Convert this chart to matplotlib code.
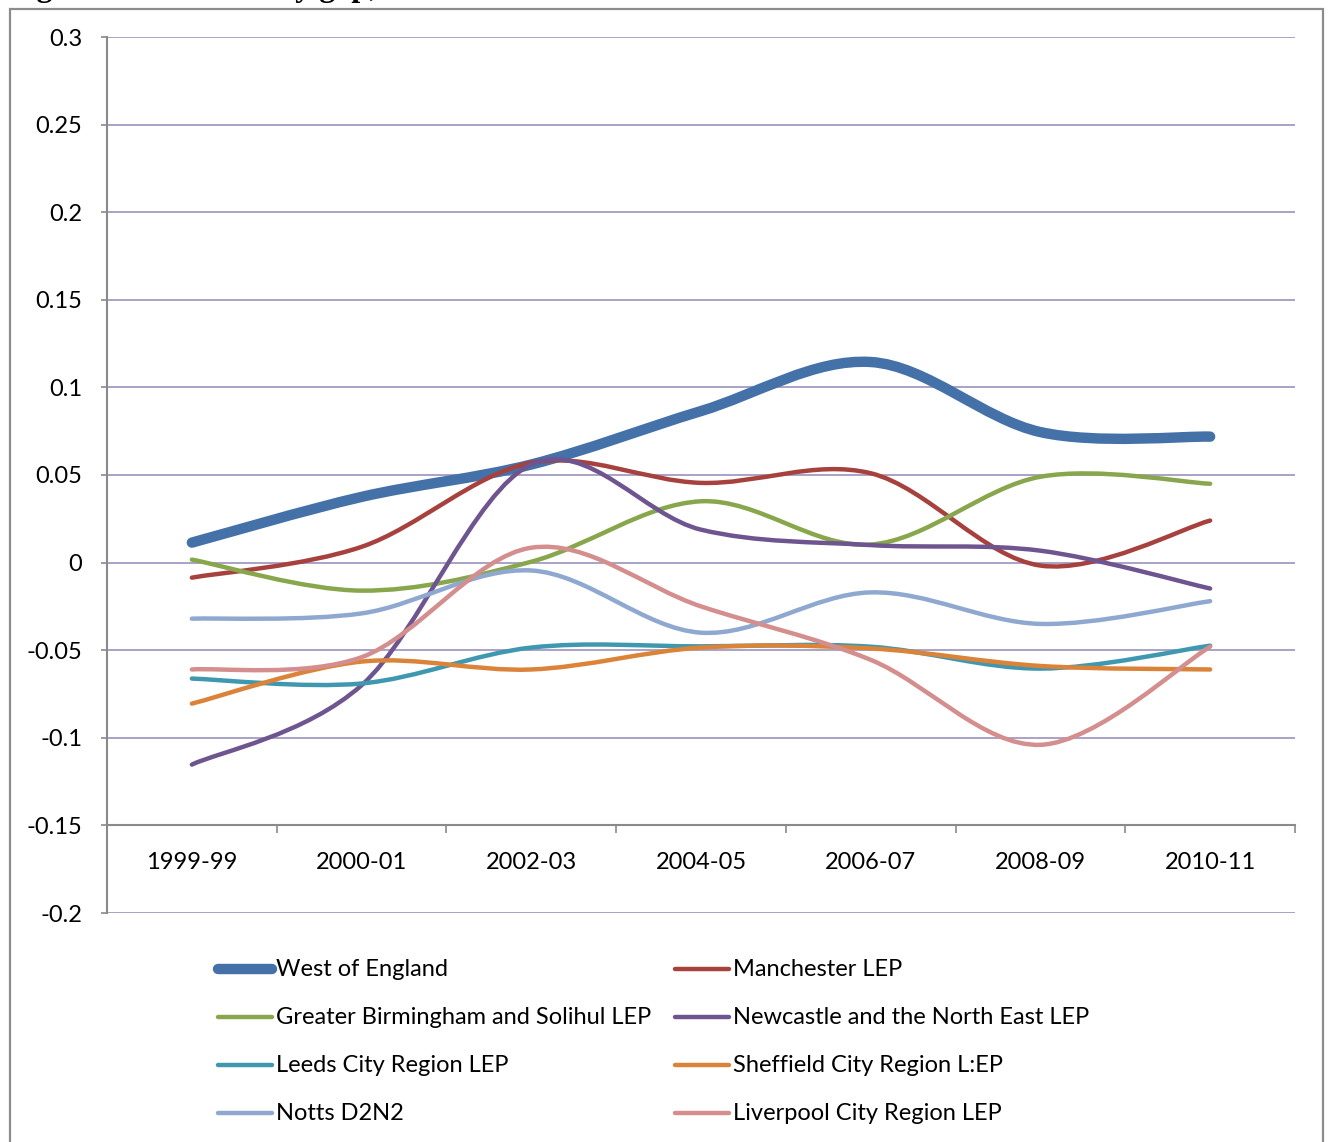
import numpy as np
import matplotlib
matplotlib.use("Agg")
import matplotlib.pyplot as plt
from matplotlib.path import Path
from matplotlib.patches import PathPatch, Rectangle
from matplotlib.lines import Line2D

plt.rcParams['font.family'] = ['Lato', 'DejaVu Sans']

# -----------------------------------------------------------------------------
# Data: productivity gap by LEP area
# -----------------------------------------------------------------------------
years = ['1999-99', '2000-01', '2002-03', '2004-05', '2006-07', '2008-09', '2010-11']

west_of_england = [0.0114, 0.0375, 0.0560, 0.0865, 0.1145, 0.0745, 0.0719]
manchester = [-0.0086, 0.0090, 0.0570, 0.0455, 0.0510, -0.0017, 0.0240]
birmingham = [0.0017, -0.0160, 0.0005, 0.0350, 0.0103, 0.0490, 0.0450]
newcastle = [-0.1153, -0.0700, 0.0560, 0.0188, 0.0100, 0.0068, -0.0148]
leeds = [-0.0662, -0.0690, -0.0485, -0.0478, -0.0480, -0.0605, -0.0474]
sheffield = [-0.0805, -0.0565, -0.0610, -0.0485, -0.0490, -0.0590, -0.0610]
notts = [-0.0320, -0.0290, -0.0045, -0.0400, -0.0170, -0.0350, -0.0220]
liverpool = [-0.0610, -0.0540, 0.0085, -0.0250, -0.0555, -0.1040, -0.0480]

names = ['West of England', 'Manchester LEP',
         'Greater Birmingham and Solihul LEP', 'Newcastle and the North East LEP',
         'Leeds City Region LEP', 'Sheffield City Region L:EP',
         'Notts D2N2', 'Liverpool City Region LEP']
series = [west_of_england, manchester, birmingham, newcastle,
          leeds, sheffield, notts, liverpool]
colors = ['#4471A8', '#A6413E', '#88A64C', '#6F5590',
          '#3F98B0', '#DC833A', '#8FA8CF', '#D38E8D']
widths = [7.5, 3.2, 3.2, 3.2, 3.2, 3.2, 3.2, 3.2]

y_ticks = [0.3, 0.25, 0.2, 0.15, 0.1, 0.05, 0, -0.05, -0.1, -0.15, -0.2]

GRID = '#A9A2C6'
AXIS = '#8A8A8A'
FS = 17


def smooth_path(xs, ys, t=1/6):
    # bezier segments like a spreadsheet "smoothed line"
    pts = np.column_stack([xs, ys]).astype(float)
    n = len(pts)
    verts = [pts[0]]
    codes = [Path.MOVETO]
    for i in range(n - 1):
        p0 = pts[max(i - 1, 0)]
        p1 = pts[i]
        p2 = pts[i + 1]
        p3 = pts[min(i + 2, n - 1)]
        c1 = p1 + (p2 - p0) * t
        c2 = p2 - (p3 - p1) * t
        verts += [c1, c2, p2]
        codes += [Path.CURVE4] * 3
    return Path(verts, codes)


W, H = 1330, 1142
fig = plt.figure(figsize=(W / 100, H / 100), dpi=100)
ax = fig.add_axes([107 / W, 1 - 913 / H, (1295 - 107) / W, (913 - 37) / H])

x = np.arange(len(years))
for vals, c, lw in zip(series, colors, widths):
    patch = PathPatch(smooth_path(x, vals), facecolor='none', edgecolor=c,
                      lw=lw, capstyle='round', joinstyle='round', zorder=3)
    ax.add_patch(patch)

ax.set_xlim(-0.5, len(years) - 0.5)
ax.set_ylim(-0.2, 0.3)

# value axis
ax.set_yticks(y_ticks)
ax.set_yticklabels([f'{v:g}' for v in y_ticks], fontsize=FS)
ax.yaxis.grid(True, color=GRID, lw=1.4)
ax.tick_params(axis='y', direction='out', length=4, width=1.2, color=AXIS, pad=14)

# category axis crosses at -0.15, ticks between categories
ax.spines['bottom'].set_position(('data', -0.15))
ax.set_xticks(x)
ax.set_xticklabels(years, fontsize=FS)
ax.set_xticks(np.arange(len(years) + 1) - 0.5, minor=True)
ax.tick_params(axis='x', which='major', length=0, pad=19)
ax.tick_params(axis='x', which='minor', direction='out', length=6, width=1.2, color=AXIS)

for s in ['top', 'right']:
    ax.spines[s].set_visible(False)
for s in ['left', 'bottom']:
    ax.spines[s].set_color(AXIS)
    ax.spines[s].set_linewidth(1.5)
    ax.spines[s].set_zorder(2.5)
ax.set_axisbelow(True)

# legend, two columns under the plot
rows_y = [969, 1017, 1065, 1113]
col_x = [218, 675]
for k, (name, c, lw) in enumerate(zip(names, colors, widths)):
    row, col = divmod(k, 2)
    x0 = col_x[col]
    yy = 1 - rows_y[row] / H
    fig.add_artist(Line2D([x0 / W, (x0 + 54) / W], [yy, yy], color=c,
                          lw=lw, solid_capstyle='round'))
    fig.text((x0 + 58) / W, yy, name, fontsize=FS, va='center', ha='left')

# outer chart frame
fig.add_artist(Rectangle((10 / W, -0.05), (1323 - 10) / W, 1.05 - 9 / H,
                         transform=fig.transFigure, fill=False,
                         edgecolor='#8C8C8C', lw=1.6))

# caption sitting above the frame
r = fig.canvas.get_renderer()
t1 = fig.text(8 / W, 1 + 4 / H, 'Figure 3: Productivity gap', fontsize=23,
              family='Liberation Serif', weight='bold', va='baseline')
bb = t1.get_window_extent(r)
fig.text(bb.x1 / W, 1 + 4 / H, ', based on Table', fontsize=23,
         family='Liberation Serif', va='baseline')

fig.savefig('out.png', dpi=100)
